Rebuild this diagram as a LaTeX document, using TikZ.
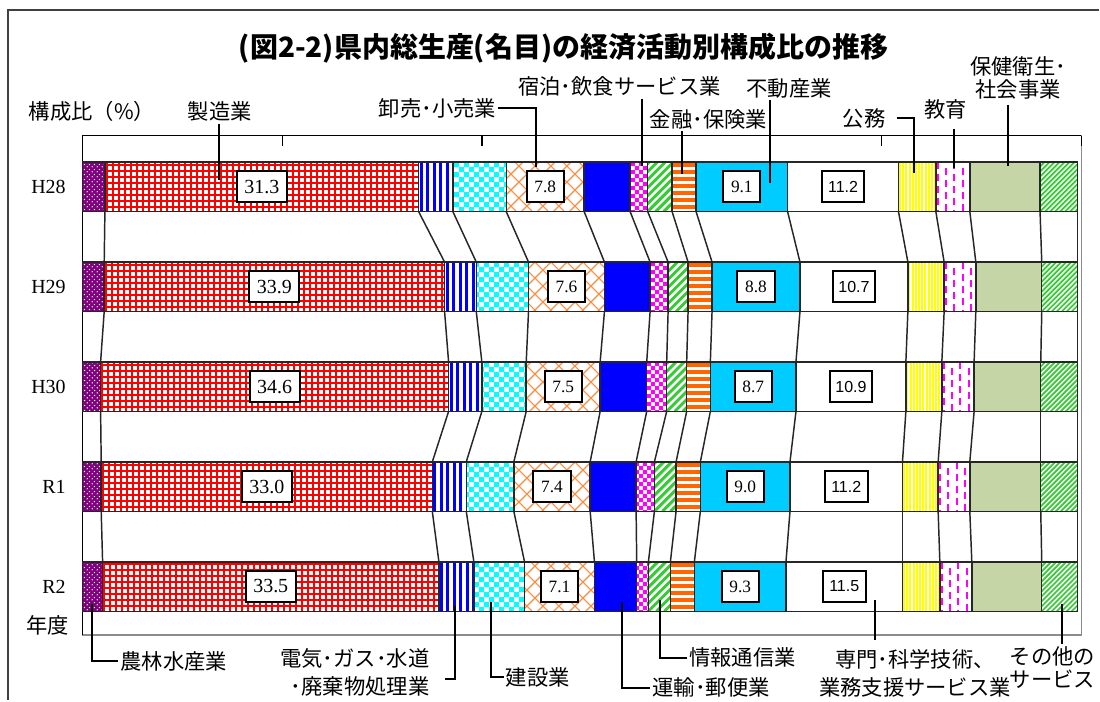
\documentclass[tikz,border=0pt]{standalone}
\usepackage{fontspec}
\setmainfont{Liberation Serif}
\newfontfamily\jp{Noto Sans CJK JP}
\newfontfamily\arialfont{Liberation Sans}
\usetikzlibrary{patterns,patterns.meta,calc}

\definecolor{AgriPurple}{HTML}{800080}
\definecolor{ManufRed}{HTML}{FF0000}
\definecolor{UtilBlue}{HTML}{0000FF}
\definecolor{ConstCyan}{HTML}{00FFFF}
\definecolor{WholeOrange}{HTML}{FF8A3D}
\definecolor{TransBlue}{HTML}{0000FF}
\definecolor{AccomMagenta}{HTML}{FF00FF}
\definecolor{InfoGreen}{HTML}{33CC33}
\definecolor{FinOrange}{HTML}{FF6600}
\definecolor{RealEstCyan}{HTML}{00CCFF}
\definecolor{GovYellow}{HTML}{FFFF00}
\definecolor{EduMagenta}{HTML}{FF00FF}
\definecolor{HealthOlive}{HTML}{C5D5A6}
\definecolor{OtherGreen}{HTML}{33CC33}

\newcommand\patrect[4]{\pgfpathrectangle{\pgfqpoint{#1pt}{#2pt}}{\pgfqpoint{#3pt}{#4pt}}}

\tikzdeclarepattern{name=WhiteDots, type=uncolored,
    bottom left={(0pt,0pt)}, top right={(3.6pt,3.6pt)}, tile size={(3.6pt,3.6pt)},
    code={\pgfpathcircle{\pgfqpoint{0.9pt}{0.9pt}}{0.55pt}
        \pgfpathcircle{\pgfqpoint{2.7pt}{2.7pt}}{0.55pt}\pgfusepath{fill}}}
\tikzdeclarepattern{name=BigChecker, type=uncolored,
    bottom left={(0pt,0pt)}, top right={(7.5pt,7.5pt)}, tile size={(7.5pt,7.5pt)},
    code={\patrect{0}{0}{3.75}{3.75}\patrect{3.75}{3.75}{3.75}{3.75}\pgfusepath{fill}}}
\tikzdeclarepattern{name=SmallChecker, type=uncolored,
    bottom left={(0pt,0pt)}, top right={(6pt,6pt)}, tile size={(6pt,6pt)},
    code={\patrect{0}{0}{3}{3}\patrect{3}{3}{3}{3}\pgfusepath{fill}}}
\tikzdeclarepattern{name=CrossHatch, type=uncolored,
    bottom left={(0pt,0pt)}, top right={(12pt,12pt)}, tile size={(12pt,12pt)},
    code={\pgfsetlinewidth{0.8pt}
        \pgfpathmoveto{\pgfqpoint{-0.5pt}{-0.5pt}}\pgfpathlineto{\pgfqpoint{12.5pt}{12.5pt}}
        \pgfpathmoveto{\pgfqpoint{-0.5pt}{12.5pt}}\pgfpathlineto{\pgfqpoint{12.5pt}{-0.5pt}}
        \pgfusepath{stroke}}}

% stripes are drawn inside each segment (\xa, \xb, \ytop come from the bar loop)
\tikzset{
    barline/.style={draw=black!85, line width=1.1pt},
    seg1/.style={preaction={fill=AgriPurple}, pattern=WhiteDots, pattern color=white},% agriculture
    seg2/.style={fill=white, path picture={% manufacturing
        \pgfmathsetmacro\xg{floor(\xa)}\pgfmathsetmacro\yg{floor(\ytop)}
        \foreach \u in {1,7,...,355} \fill[ManufRed] (\xg+\u,\yg) rectangle ++(2,51);
        \foreach \v in {2,8,...,50} \fill[ManufRed] (\xg,\yg+\v) rectangle ++(360,2);}},
    seg3/.style={fill=white, path picture={% utilities
        \foreach \u in {1,7.5,...,40} \fill[UtilBlue] (\xa+\u,\ytop) rectangle ++(3,49.5);}},
    seg4/.style={preaction={fill=white}, pattern=BigChecker, pattern color=ConstCyan},% construction
    seg5/.style={preaction={fill=white}, pattern=CrossHatch, pattern color=WholeOrange},% trade
    seg6/.style={fill=TransBlue},% transport
    seg7/.style={preaction={fill=white}, pattern=SmallChecker, pattern color=AccomMagenta},% hotels
    seg8/.style={fill=white, path picture={% information
        \foreach \u in {-56,-48,...,32} \draw[InfoGreen, line width=2.2pt]
            (\xa+\u,\ytop+49.5) -- ++(50,-50);}},
    seg9/.style={fill=white, path picture={% finance
        \foreach \v in {1,8,...,50} \fill[FinOrange] (\xa,\ytop+\v) rectangle ++(40,4);}},
    seg10/.style={fill=RealEstCyan},% real estate
    seg11/.style={fill=white},% professional
    seg12/.style={fill=white, path picture={% government
        \foreach \u in {0.5,3.7,...,42} \fill[GovYellow] (\xa+\u,\ytop) rectangle ++(2,49.5);}},
    seg13/.style={fill=white, path picture={% education
        \foreach \u in {2,18.6,...,40} \draw[EduMagenta, line width=1.5pt,
            dash pattern=on 5.25pt off 3.75pt] (\xa+\u,\ytop) -- ++(0,49.5);
        \foreach \u in {10.3,26.9,...,40} \draw[EduMagenta, line width=1.5pt,
            dash pattern=on 5.25pt off 3.75pt, dash phase=4.5pt] (\xa+\u,\ytop) -- ++(0,49.5);}},
    seg14/.style={fill=HealthOlive},% health
    seg15/.style={fill=white, path picture={% other
        \foreach \u in {-55,-50,...,40} \draw[OtherGreen, line width=1.3pt]
            (\xa+\u,\ytop+49.5) -- ++(50,-50);}},
    lbl/.style={font=\jp\fontsize{16}{17.5}\selectfont, inner sep=1.5pt, align=center},
    callout/.style={line width=1.5pt},
    yearlbl/.style={font=\fontsize{15}{17}\selectfont, anchor=east, inner sep=0pt},
    valbox/.style={draw, line width=1.5pt, fill=white, inner sep=0pt, minimum height=23.25pt},
    bigval/.style={valbox, minimum width=37.5pt, font=\fontsize{15}{17}\selectfont},
    midval/.style={valbox, minimum width=28pt, font=\fontsize{13}{15}\selectfont},
    sansval/.style={valbox, minimum width=32pt, font=\arialfont\fontsize{12}{14}\selectfont},
}

\begin{document}
\begin{tikzpicture}[x=0.75pt, y=-0.75pt]
    \fill[white] (0,0) rectangle (1100,701);
    \coordinate (FrameBL) at (8,701);
    \coordinate (FrameTL) at (8,10);
    \coordinate (FrameTR) at (1100,10);
    \coordinate (PlotTL)  at (82.7,135.7);
    \coordinate (PlotTR)  at (1082.3,135.7);
    \coordinate (PlotBL)  at (82.7,635.5);
    \coordinate (PlotBR)  at (1082.3,635.5);
    \draw [line width=1.5pt, black!75] (FrameBL) -- (FrameTL) -- (FrameTR);% outer frame
    \draw [line width=1.1pt, black!45] (PlotTL) rectangle (PlotBR);% plot area
    \draw [line width=1.1pt] (PlotBL) -- (PlotTL) -- (PlotTR);% axes
    \foreach \xt in {282.7,482.6,682.5,882.4,1082.3}
        \draw [line width=1.1pt] (\xt,135.7) -- (\xt,146);

    % bars: one list of segment edges per year
    \foreach \yr/\ytop/\xs [count=\r] in {
        H28/162.3/{82.7,105,419,453.3,506.7,584.7,630.7,648.3,672.7,696.7,788.3,899.3,936.7,970.7,1041,1078.7},
        H29/262.3/{82.7,104.3,445,476.7,529,605,650.7,668.7,688.7,712.7,800.7,908.7,945,976.7,1042.7,1078.7},
        H30/362.3/{82.7,100.7,449,482.3,526.7,600.7,647.3,667.3,687.3,711,796.7,906.7,942.7,975,1041.7,1078.7},
        R1/462.3/{82.7,101.3,432.7,466.7,514.3,590.7,636.7,655,676.7,701,790.7,903.3,939,970.7,1041.7,1078.7},
        R2/562.3/{82.7,102.7,439.3,474.3,525,595,637.3,649,671,695,786.7,903.3,940.7,972.7,1042.7,1078.7}}{
        \node[yearlbl] (Year\r) at (66,\ytop+24.75) {\yr};
        \foreach \xb [count=\k from 0, remember=\xb as \xa] in \xs {
            \coordinate (T\r-\k) at (\xb,\ytop);
            \coordinate (B\r-\k) at (\xb,\ytop+49.5);
            \ifnum\k>0 \path[seg\k] (\xa,\ytop) rectangle (\xb,\ytop+49.5); \fi
        }
        \draw[barline] (T\r-0) rectangle (B\r-15);
        \foreach \k in {1,...,14} \draw[barline] (T\r-\k) -- (B\r-\k);
    }
    % series lines between bars
    \foreach \r in {1,...,4}{
        \pgfmathtruncatemacro\s{\r+1}
        \foreach \k in {1,...,15} \draw[barline] (B\r-\k) -- (T\s-\k);
    }
    % value boxes
    \foreach \vm/\vw/\vr/\vp [count=\r] in {31.3/7.8/9.1/11.2, 33.9/7.6/8.8/10.7,
        34.6/7.5/8.7/10.9, 33.0/7.4/9.0/11.2, 33.5/7.1/9.3/11.5}{
        \node[bigval]  (ManufVal\r)   at ($(T\r-1)!.5!(B\r-2)$)   {\vm};
        \node[midval]  (WholeVal\r)   at ($(T\r-4)!.5!(B\r-5)$)   {\vw};
        \node[midval]  (RealEstVal\r) at ($(T\r-9)!.5!(B\r-10)$)  {\vr};
        \node[sansval] (ProfVal\r)    at ($(T\r-10)!.5!(B\r-11)$) {\vp};
    }

    \node[lbl, font=\jp\bfseries\fontsize{21}{24}\selectfont] (Title) at (564,48)
        {(図2-2)県内総生産(名目)の経済活動別構成比の推移};
    \node[lbl] (RatioLbl) at (92,112) {構成比（\%）};
    \node[lbl] (FYLbl) at (48,626) {年度};

    % labels above the bars
    \node[lbl] (Manuf) at (220,112) {製造業};
    \coordinate (ManufPt) at (219,180);
    \draw[callout] (Manuf.south -| ManufPt) -- (ManufPt);
    \node[lbl] (Whole) at (438,108.3) {卸売･小売業};
    \coordinate (WholePt) at (536,167);
    \draw[callout] (Whole.east) -| (WholePt);
    \node[lbl] (Accom) at (620,86.7) {宿泊･飲食サービス業};
    \coordinate (AccomPt) at (642.7,166);
    \draw[callout] (Accom.south -| AccomPt) -- (AccomPt);
    \node[lbl] (Fin) at (709,119.3) {金融･保険業};
    \coordinate (FinPt) at (683,174);
    \draw[callout] (Fin.south -| FinPt) -- (FinPt);
    \node[lbl] (RealEst) at (790,88.3) {不動産業};
    \coordinate (RealEstPt) at (770.7,183.3);
    \draw[callout] (RealEst.south -| RealEstPt) -- (RealEstPt);
    \node[lbl] (Gov) at (865,118.3) {公務};
    \coordinate (GovPt) at (915,173.3);
    \draw[callout] ([xshift=7pt]Gov.east) -| (GovPt);
    \node[lbl] (Edu) at (946.7,110) {教育};
    \coordinate (EduPt) at (955,168.3);
    \draw[callout, shorten <=5pt] (Edu.south -| EduPt) -- (EduPt);
    \node[lbl] (Health) at (1019,78.3) {保健衛生･\\社会事業};
    \coordinate (HealthPt) at (1009,166);
    \draw[callout, shorten <=2pt] (Health.south -| HealthPt) -- (HealthPt);

    % labels below the bars
    \node[lbl] (Agri) at (174,661.7) {農林水産業};
    \coordinate (AgriPt) at (92.5,605);
    \draw[callout] (AgriPt) |- (Agri.west);
    \node[lbl, font=\jp\fontsize{16}{21}\selectfont, align=right, anchor=east] (Util) at (432,673.3)
        {電気･ガス･水道\\･廃棄物処理業};
    \coordinate (UtilPt) at (455,606.7);
    \draw[callout] (UtilPt) |- ([shift={(13,6)}]Util.east);
    \node[lbl] (Const) at (538.3,677.7) {建設業};
    \coordinate (ConstPt) at (491,602.7);
    \draw[callout] (ConstPt) |- (Const.west);
    \node[lbl] (Trans) at (711.7,688.3) {運輸･郵便業};
    \coordinate (TransPt) at (622.7,602.7);
    \draw[callout] (TransPt) |- (Trans.west);
    \node[lbl] (Info) at (743.3,658.3) {情報通信業};
    \coordinate (InfoPt) at (660.7,600.7);
    \draw[callout] (InfoPt) |- (Info.west);
    \node[lbl, font=\jp\fontsize{16}{21}\selectfont] (Prof) at (915.8,674.2)
        {専門･科学技術、\\業務支援サービス業};
    \coordinate (ProfPt) at (876,600.7);
    \draw[callout, shorten >=5.5pt] (ProfPt) -- (ProfPt |- Prof.north);
    \node[lbl] (Other) at (1053.3,668.3) {その他の\\サービス};
    \coordinate (OtherPt) at (1062.7,605);
    \draw[callout] (OtherPt) -- (OtherPt |- Other.north);
\end{tikzpicture}
\end{document}
